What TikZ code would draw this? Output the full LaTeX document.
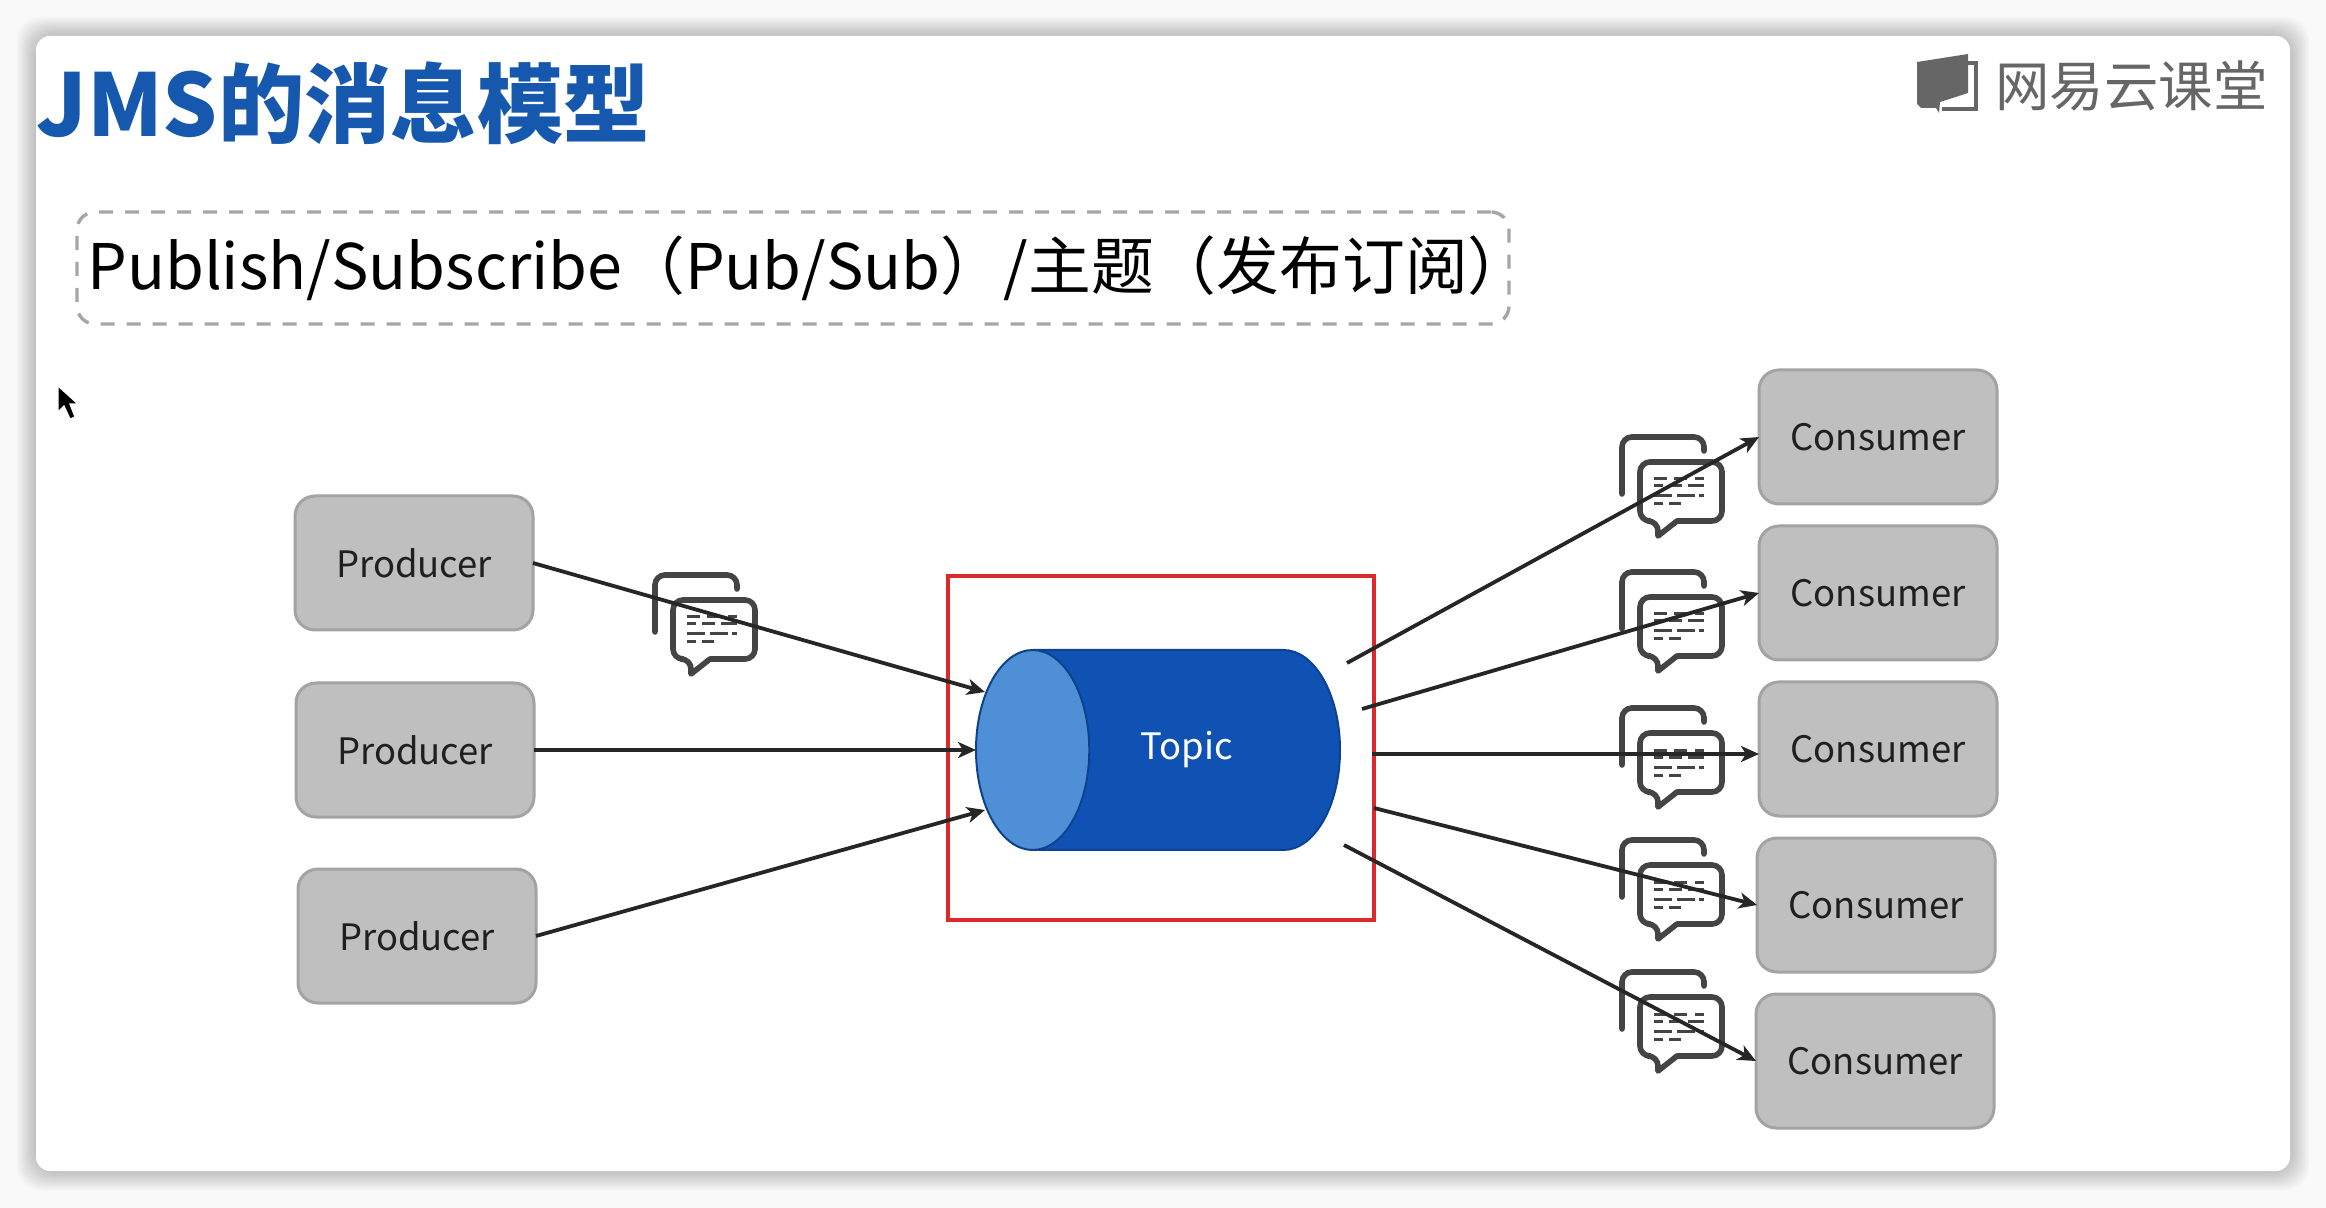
\documentclass[tikz,border=0pt]{standalone}
\usepackage{fontspec}
\setmainfont{Noto Sans CJK SC}
\usepackage{xcolor}
\usetikzlibrary{arrows.meta,shapes.geometric}
\definecolor{pageC}{HTML}{F9F9F9}
\definecolor{titleC}{HTML}{1558AE}
\definecolor{logoC}{HTML}{666666}
\definecolor{boxC}{HTML}{BFBFBF}
\definecolor{edgeC}{HTML}{A3A3A3}
\definecolor{topicC}{HTML}{0F52B4}
\definecolor{capC}{HTML}{4F8FD6}
\definecolor{iconC}{HTML}{444444}
\definecolor{redC}{HTML}{DC2A2A}
\newcommand{\fsize}[1]{\fontsize{#1}{#1}\selectfont}

\tikzset{
  chat/.pic={
    \draw[iconC,line width=2.8pt,line cap=round,rounded corners=5pt]
      (82,14) -- (82,0) -- (0,0) -- (0,57);
    \draw[iconC,line width=2.8pt,line join=round,rounded corners=5pt]
      (55,84) -- (100,84) -- (100,25) -- (18,25) -- (18,84) -- (36,84)
      [sharp corners] -- (36,99) -- (55,84) -- cycle;
    \draw[iconC,line width=1.5pt]
      (32,42) -- (45,42) (52,42) -- (65,42) (73,42) -- (82,42)
      (32,49) -- (41,49) (47,49) -- (60,49) (66,49) -- (82,49)
      (32,59) -- (50,59) (55,59) -- (73,59) (77,59) -- (82,59)
      (32,67) -- (41,67) (47,67) -- (59,67);
  }
}

\begin{document}
\begin{tikzpicture}[x=0.5pt,y=-0.5pt,>={Stealth[length=9pt,width=8pt,inset=2.5pt]},
  client/.style={draw=edgeC,fill=boxC,line width=1.5pt,rounded corners=10pt,
                 minimum width=119pt,minimum height=67pt,outer sep=0pt,
                 text=black!88,font=\fsize{18.2}},
  flow/.style={->,line width=1.9pt,black!85}]
\useasboundingbox[fill=pageC] (0,0) rectangle (2326,1208);
\foreach \grow in {1,3,...,19}
  \fill[black,opacity=0.022,rounded corners=12pt]
    (36-\grow,36-\grow) rectangle (2290+\grow,1171+\grow);
\fill[white,rounded corners=7pt] (36,36) rectangle (2290,1171);

\node[anchor=base west,inner sep=0pt,text=titleC,font=\fsize{43.2}\bfseries] (title) at (36,137)
  {JMS的消息模型};
\fill[logoC] (1917,62) -- (1968,54) -- (1968,93) -- (1940,102) -- (1939,113) -- (1936,108)
  -- (1921,108) -- (1917,104) -- cycle;
\draw[logoC,line width=1.8pt] (1968,63) -- (1976,63) -- (1976,109) -- (1942,109);
\node[anchor=west,inner sep=0pt,text=logoC,font=\fsize{27.2}] (brand) at (1995,86) {网易云课堂};

\node[draw=black!35,dashed,dash pattern=on 7pt off 6pt,line width=1.7pt,rounded corners=9pt,
      minimum width=716pt,minimum height=56pt,outer sep=0pt] (kind) at (793,268) {};
\node[anchor=west,inner sep=0pt,font=\fsize{31.4}] (kindtext) at (87,268)
  {Publish/Subscribe（Pub/Sub）/主题（发布订阅）};

\fill[black,draw=white,line width=0.6pt] (58,386) -- (58,412) -- (64,406) -- (70,419) -- (75,417)
  -- (70,404) -- (78,404) -- cycle;

\draw[redC,line width=1.6pt] (948,576) rectangle (1374,920);

\node[client] (prodA) at (414,563) {Producer};
\node[client] (prodB) at (415,750) {Producer};
\node[client] (prodC) at (417,936) {Producer};

\node[client] (consA) at (1878,437) {Consumer};
\node[client] (consB) at (1878,593) {Consumer};
\node[client] (consC) at (1878,749) {Consumer};
\node[client] (consD) at (1876,905) {Consumer};
\node[client] (consE) at (1875,1061) {Consumer};

\node[cylinder,shape border rotate=180,aspect=3.1,draw=topicC!80!black,line width=1pt,
      cylinder uses custom fill,cylinder body fill=topicC,cylinder end fill=capC,
      minimum width=100pt,minimum height=182pt,outer sep=0pt,inner sep=0pt,anchor=west,
      text=white,font=\fsize{18.2}] (topic) at (976,750) {\raisebox{-1.4pt}{Topic}};

\foreach \py in {437,572,708,840,972}
  \pic at (1622,\py) {chat};
\pic at (655,575) {chat};

\coordinate (inA) at (985,692);
\coordinate (inC) at (985,810);
\coordinate (outA) at (1347,663);
\coordinate (outB) at (1362,709);
\coordinate (outC) at (1372,754);
\coordinate (outD) at (1374,808);
\coordinate (outE) at (1344,845);

\draw[flow] (prodA.east) -- (inA);
\draw[flow] (prodB.east) -- (topic.west |- prodB.east);
\draw[flow] (prodC.east) -- (inC);
\draw[flow] (outA) -- (consA.west);
\draw[flow] (outB) -- (consB.west);
\draw[flow] (outC) -- (outC -| consC.west);
\draw[flow] (outD) -- (consD.west);
\draw[flow] (outE) -- (consE.west);
\end{tikzpicture}
\end{document}
